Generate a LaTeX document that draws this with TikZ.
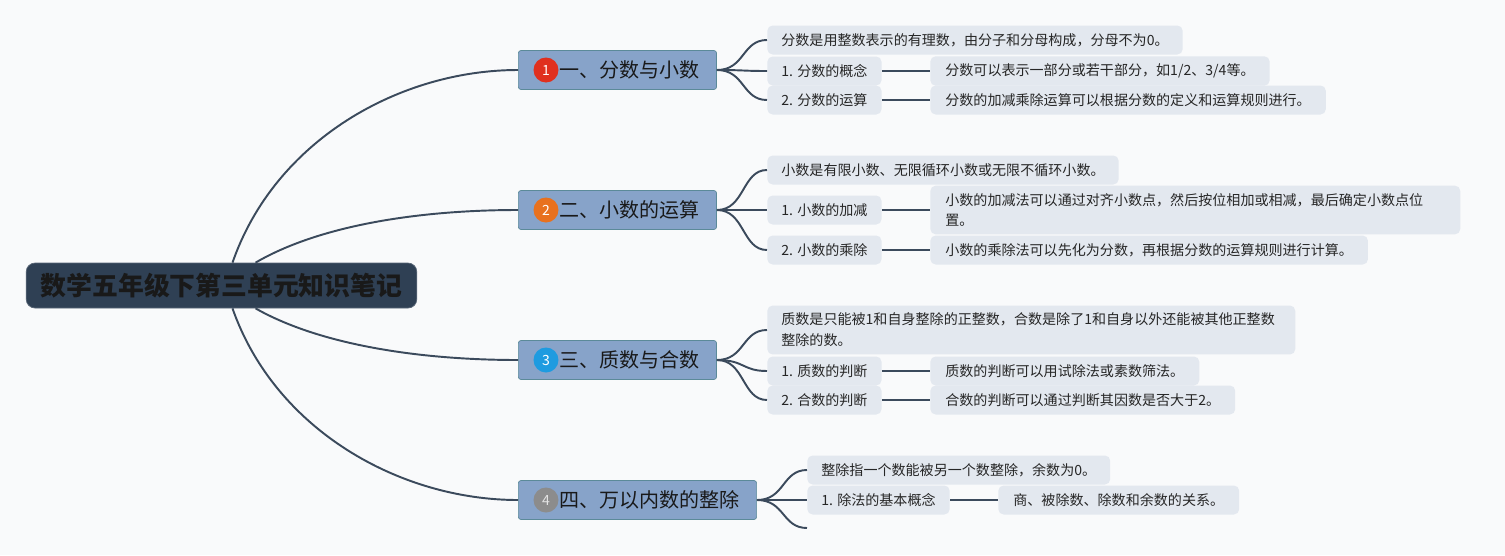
\documentclass[tikz,border=0pt]{standalone}
\usepackage{fontspec}
\setmainfont{Noto Sans CJK SC}
\usetikzlibrary{positioning}
\definecolor{bgc}{HTML}{F9FAFB}
\definecolor{rootc}{HTML}{2F4054}
\definecolor{topicc}{HTML}{87A3C9}
\definecolor{topicb}{HTML}{5B8A99}
\definecolor{subc}{HTML}{E3E8EF}
\definecolor{linkc}{HTML}{3B4A5C}
\definecolor{bred}{HTML}{E0301E}
\definecolor{borange}{HTML}{E8711E}
\definecolor{bblue}{HTML}{1E9BE0}
\definecolor{bgray}{HTML}{8C8C8C}

\begin{document}
\begin{tikzpicture}[x=0.02cm,y=-0.02cm,
  root/.style={fill=rootc,draw=rootc!80!white,rounded corners=5pt,minimum height=0.9cm,inner xsep=0.29cm,font=\fontsize{14.7}{16}\selectfont\bfseries,text=black!90},
  topic/.style={anchor=west,fill=topicc,draw=topicb,rounded corners=1.5pt,minimum height=0.78cm,inner xsep=0.34cm,inner ysep=0pt,font=\fontsize{11.4}{13}\selectfont,text=black!90,execute at begin node=\hspace*{0.48cm}},
  badge/.style={circle,minimum size=0.5cm,inner sep=0pt,text=white,font=\fontsize{8}{8}\selectfont},
  sub/.style={anchor=west,fill=subc,rounded corners=3pt,minimum height=0.58cm,inner xsep=0.28cm,inner ysep=0.15cm,align=left,font=\fontsize{8}{11.9}\selectfont,text=black!85},
  label/.style={sub,minimum width=2.26cm},
  leaf/.style={sub,inner xsep=0.3cm},
  link/.style={draw=linkc,line width=1.1pt}]
  \useasboundingbox (0,0) rectangle (1505,555);
  \fill[bgc] (0,0) rectangle (1505,555);
  % root
  \node[root] (root) at (221.5,285.5) {数学五年级下第三单元知识笔记};
  % topics
  \node[topic] (t1) at (518,70) {一、分数与小数};
  \node[topic] (t2) at (518,210) {二、小数的运算};
  \node[topic] (t3) at (518,360) {三、质数与合数};
  \node[topic] (t4) at (518,500) {四、万以内数的整除};
  \node[badge,fill=bred] (n1) at ([xshift=0.56cm]t1.west) {1};
  \node[badge,fill=borange] (n2) at ([xshift=0.56cm]t2.west) {2};
  \node[badge,fill=bblue] (n3) at ([xshift=0.56cm]t3.west) {3};
  \node[badge,fill=bgray,text=white!75!bgray] (n4) at ([xshift=0.56cm]t4.west) {4};
  \draw[link] ([xshift=0.22cm]root.north) .. controls (275,140) and (400,70) .. (t1.west);
  \draw[link] ([xshift=0.68cm]root.north) .. controls (320,225) and (420,210) .. (t2.west);
  \draw[link] ([xshift=0.68cm]root.south) .. controls (320,345) and (420,360) .. (t3.west);
  \draw[link] ([xshift=0.22cm]root.south) .. controls (275,430) and (400,500) .. (t4.west);

  % group 1
  \node[sub] (s1a) at (767,40) {分数是用整数表示的有理数，由分子和分母构成，分母不为0。};
  \node[label] (s1b) at (767,71) {1. 分数的概念};
  \node[label] (s1c) at (767,100) {2. 分数的运算};
  \node[leaf] (l1b) at (930,71) {分数可以表示一部分或若干部分，如1/2、3/4等。};
  \node[leaf] (l1c) at (930,100) {分数的加减乘除运算可以根据分数的定义和运算规则进行。};
  \foreach \s in {s1a,s1b,s1c}
    \draw[link] (t1.east) .. controls +(28,0) and +(-25,0) .. (\s.west);
  \draw[link] (s1b) -- (l1b);
  \draw[link] (s1c) -- (l1c);

  % group 2
  \node[sub] (s2a) at (767,170) {小数是有限小数、无限循环小数或无限不循环小数。};
  \node[label] (s2b) at (767,210) {1. 小数的加减};
  \node[label] (s2c) at (767,250) {2. 小数的乘除};
  \node[leaf,text width=10cm] (l2b) at (930,210) {小数的加减法可以通过对齐小数点，然后按位相加或相减，最后确定小数点位\\置。};
  \node[leaf] (l2c) at (930,250) {小数的乘除法可以先化为分数，再根据分数的运算规则进行计算。};
  \foreach \s in {s2a,s2b,s2c}
    \draw[link] (t2.east) .. controls +(28,0) and +(-25,0) .. (\s.west);
  \draw[link] (s2b) -- (l2b.west |- s2b);
  \draw[link] (s2c) -- (l2c);

  % group 3
  \node[sub,text width=10cm] (s3a) at (767,330) {质数是只能被1和自身整除的正整数，合数是除了1和自身以外还能被其他正整数\\整除的数。};
  \node[label] (s3b) at (767,371) {1. 质数的判断};
  \node[label] (s3c) at (767,400) {2. 合数的判断};
  \node[leaf] (l3b) at (930,371) {质数的判断可以用试除法或素数筛法。};
  \node[leaf] (l3c) at (930,400) {合数的判断可以通过判断其因数是否大于2。};
  \foreach \s in {s3a,s3b,s3c}
    \draw[link] (t3.east) .. controls +(28,0) and +(-25,0) .. (\s.west);
  \draw[link] (s3b) -- (l3b);
  \draw[link] (s3c) -- (l3c);

  % group 4
  \node[sub] (s4a) at (807,470) {整除指一个数能被另一个数整除，余数为0。};
  \node[label,minimum width=2.8cm] (s4b) at (807,500) {1. 除法的基本概念};
  \node[leaf] (l4b) at (998,500) {商、被除数、除数和余数的关系。};
  \coordinate (e4) at (807,528);
  \foreach \s in {s4a.west,s4b.west,e4}
    \draw[link] (t4.east) .. controls +(28,0) and +(-25,0) .. (\s);
  \draw[link] (s4b) -- (l4b);
\end{tikzpicture}
\end{document}
